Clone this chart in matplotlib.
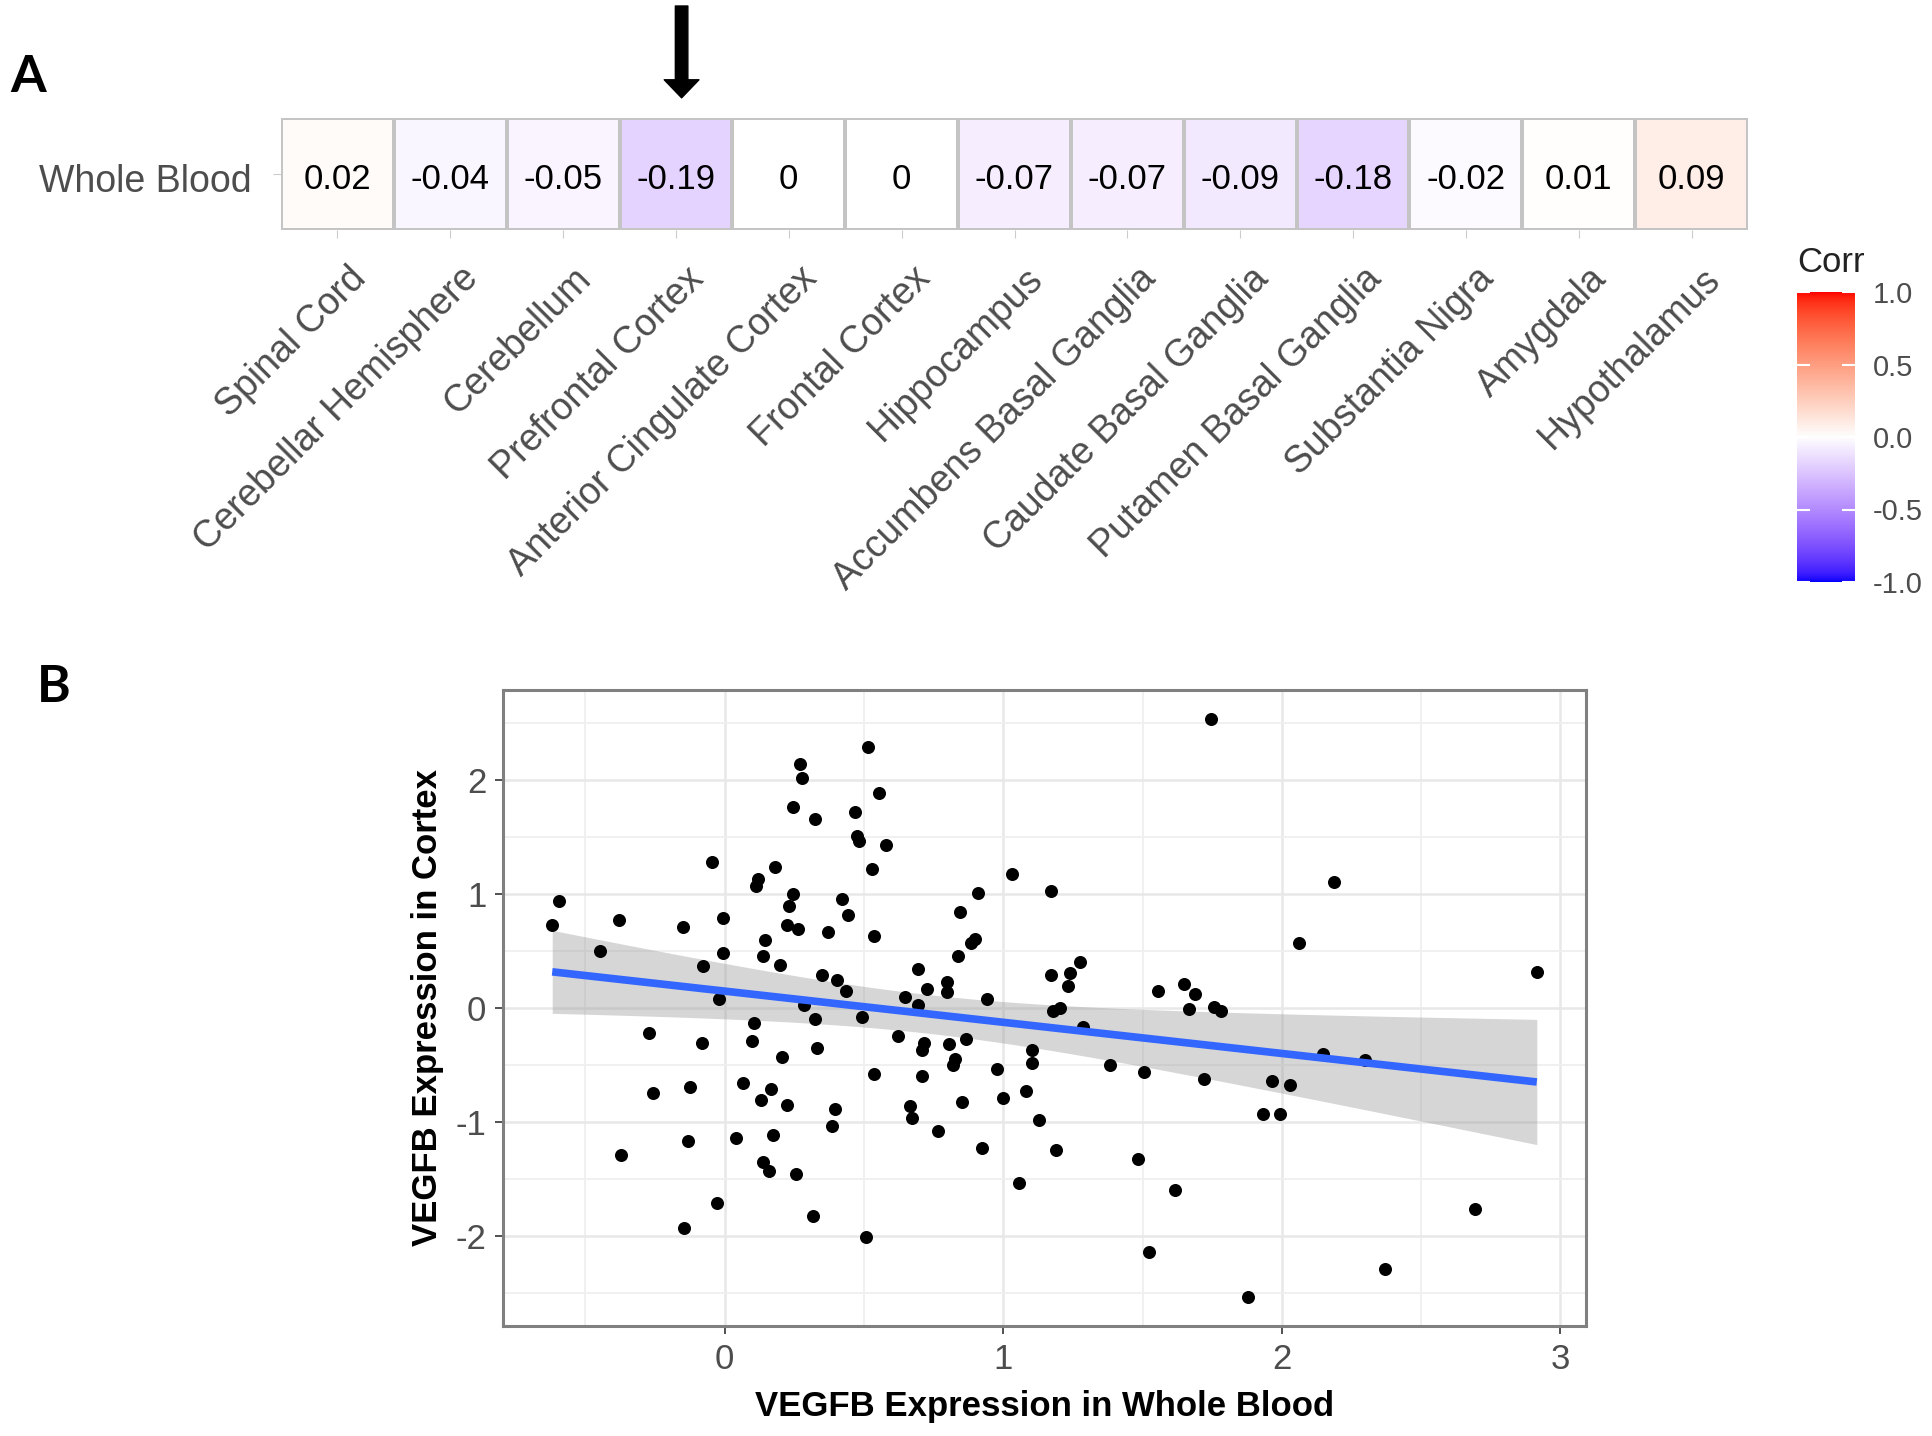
import numpy as np
import matplotlib
matplotlib.use("Agg")
import matplotlib.pyplot as plt
from matplotlib.colors import ListedColormap
from matplotlib.transforms import ScaledTranslation

plt.rcParams['font.family'] = ['Liberation Sans', 'DejaVu Sans']
plt.rcParams['axes.unicode_minus'] = False

# ---------------- data ----------------
tissues = ["Spinal Cord", "Cerebellar Hemisphere", "Cerebellum", "Prefrontal Cortex",
           "Anterior Cingulate Cortex", "Frontal Cortex", "Hippocampus",
           "Accumbens Basal Ganglia", "Caudate Basal Ganglia", "Putamen Basal Ganglia",
           "Substantia Nigra", "Amygdala", "Hypothalamus"]
row_label = "Whole Blood"
corr_values = [0.02, -0.04, -0.05, -0.19, 0, 0, -0.07, -0.07, -0.09, -0.18, -0.02, 0.01, 0.09]
highlight = "Prefrontal Cortex"
cbar_ticks = [1.0, 0.5, 0.0, -0.5, -1.0]
cbar_ticklabels = ["1.0", "0.5", "0.0", "-0.5", "-1.0"]

blood_x = [0.515, 0.27, 0.278, 0.555, 0.246, 0.325, 0.466, 0.474, 0.483, 0.578, 0.529, -0.045,
           0.182, 0.119, 0.112, 1.033, 1.173, 0.247, 0.23, 0.42, 0.443, 0.909, 0.846, -0.594,
           -0.619, -0.381, -0.148, -0.006, 0.223, 0.263, 0.372, 0.537, 0.143, -0.446, -0.006,
           0.136, 0.2, -0.078, 0.898, 0.885, 0.837, 0.695, 0.727, 0.797, 0.797, 0.94, 0.349,
           0.404, 0.435, 0.649, 0.695, 1.17, 1.18, -0.022, 0.286, 0.494, 0.324, 0.105,
           -0.271, -0.083, 0.097, 0.206, 0.331, 0.623, 0.716, 0.71, 0.805, 0.866, 0.828, 0.82,
           1.103, 1.102, 0.978, 0.536, 0.71, -0.257, -0.124, 0.065, 0.168, 0.129, 0.223, 0.395,
           0.387, 0.665, 0.671, 0.851, 1.0, 1.08, 1.127, 0.766, 0.922, 1.19, 1.057, -0.373,
           -0.131, 0.041, 0.175, 0.136, 0.159, 0.255, -0.028, -0.146, 0.317, 0.506,
           1.744, 2.187, 2.062, 2.915, 1.277, 1.238, 1.231, 1.555, 1.649, 1.69, 1.667, 1.758,
           1.782, 1.205,
           1.286, 1.382, 1.506, 1.719, 1.965, 2.03, 2.147, 2.299, 1.933, 1.992, 1.485, 1.618,
           1.523, 1.879, 2.369, 2.694]
cortex_y = [2.29, 2.14, 2.02, 1.89, 1.77, 1.66, 1.72, 1.51, 1.47, 1.43, 1.22, 1.28,
            1.24, 1.13, 1.07, 1.18, 1.03, 1.00, 0.90, 0.96, 0.82, 1.01, 0.84, 0.94,
            0.73, 0.77, 0.71, 0.79, 0.73, 0.69, 0.67, 0.63, 0.60, 0.50, 0.48,
            0.46, 0.38, 0.37, 0.61, 0.57, 0.46, 0.34, 0.17, 0.23, 0.14, 0.08, 0.29,
            0.25, 0.15, 0.10, 0.03, 0.29, -0.03, 0.08, 0.03, -0.08, -0.10, -0.13,
            -0.216, -0.31, -0.29, -0.43, -0.35, -0.25, -0.31, -0.37, -0.32, -0.27, -0.45, -0.50,
            -0.37, -0.48, -0.54, -0.58, -0.60, -0.75, -0.69, -0.66, -0.71, -0.81, -0.85, -0.89,
            -1.04, -0.86, -0.965, -0.83, -0.79, -0.73, -0.985, -1.08, -1.23, -1.25, -1.54, -1.29,
            -1.17, -1.14, -1.12, -1.35, -1.43, -1.46, -1.71, -1.93, -1.83, -2.01,
            2.54, 1.11, 0.57, 0.32, 0.40, 0.31, 0.19, 0.15, 0.21, 0.12, -0.01, 0.01,
            -0.03, 0.0,
            -0.17, -0.50, -0.56, -0.62, -0.64, -0.68, -0.40, -0.455, -0.93, -0.93, -1.33, -1.60,
            -2.14, -2.54, -2.29, -1.77]
x_ticks = [0, 1, 2, 3]
y_ticks = [-2, -1, 0, 1, 2]


# ---------------- colour map (ggplot gradient2 in Lab space) ----------------
_M = np.array([[0.4124, 0.3576, 0.1805], [0.2126, 0.7152, 0.0722], [0.0193, 0.1192, 0.9505]])
_WP = np.array([0.95047, 1.0, 1.08883])


def srgb_to_lab(rgb):
    rgb = np.asarray(rgb, float)
    c = np.where(rgb <= 0.04045, rgb / 12.92, ((rgb + 0.055) / 1.055) ** 2.4)
    xyz = _M @ c / _WP
    f = np.where(xyz > 0.008856, np.cbrt(xyz), 7.787 * xyz + 16 / 116)
    return np.array([116 * f[1] - 16, 500 * (f[0] - f[1]), 200 * (f[1] - f[2])])


def lab_to_srgb(lab):
    L, a, b = lab
    fy = (L + 16) / 116
    f = np.array([fy + a / 500, fy, fy - b / 200])
    xyz = np.where(f ** 3 > 0.008856, f ** 3, (f - 16 / 116) / 7.787) * _WP
    c = np.clip(np.linalg.inv(_M) @ xyz, 0, 1)
    rgb = np.where(c <= 0.0031308, 12.92 * c, 1.055 * c ** (1 / 2.4) - 0.055)
    return np.clip(rgb, 0, 1)


lab_blue = srgb_to_lab([0, 0, 1])
lab_white = srgb_to_lab([1, 1, 1])
lab_red = srgb_to_lab([1, 0, 0])
cols = []
for v in np.linspace(-1, 1, 257):
    if v < 0:
        lab = lab_white + (lab_blue - lab_white) * (-v)
    else:
        lab = lab_white + (lab_red - lab_white) * v
    cols.append(lab_to_srgb(lab))
cmap = ListedColormap(cols)

# ---------------- figure ----------------
W, H = 1932, 1436
fig = plt.figure(figsize=(W / 100, H / 100), dpi=100)

grey_txt = "#4D4D4D"

# ----- Panel A heatmap -----
axA = fig.add_axes([281 / W, 1 - 230 / H, 1467 / W, 112 / H])
n = len(tissues)
vals = np.array(corr_values, float).reshape(1, n)
axA.pcolormesh(np.arange(n + 1), [0, 1], vals, cmap=cmap, vmin=-1, vmax=1,
               edgecolors="#C4C4C4", linewidth=1.6)
for i, v in enumerate(corr_values):
    axA.text(i + 0.5, 0.45, f"{v:g}", ha="center", va="center", fontsize=25, color="black")
axA.set_xlim(0, n)
axA.set_ylim(0, 1)
axA.set_xticks(np.arange(n) + 0.5)
axA.set_xticklabels(tissues, rotation=45, ha="right", va="top", rotation_mode="anchor",
                    fontsize=27, color=grey_txt)
axA.set_yticks([0.5])
axA.set_yticklabels([row_label], fontsize=27, color=grey_txt)
axA.tick_params(axis="x", length=6, color="#CCCCCC", pad=16)
axA.tick_params(axis="y", length=6, color="#CCCCCC", pad=15)
for lab in axA.get_xticklabels():
    lab.set_transform(lab.get_transform() + ScaledTranslation(0.1, 0, fig.dpi_scale_trans))
for lab in axA.get_yticklabels():
    lab.set_transform(lab.get_transform() + ScaledTranslation(0, -0.04, fig.dpi_scale_trans))
for s in axA.spines.values():
    s.set_visible(False)

# arrow pointing at highlighted cell
hi = tissues.index(highlight)
axA.annotate("", xy=(hi + 0.55, 1.18), xycoords="data",
             xytext=(hi + 0.55, 2.0), textcoords="data",
             arrowprops=dict(facecolor="black", edgecolor="black", width=9,
                             headwidth=25, headlength=13, shrink=0),
             annotation_clip=False)

# colour bar
axC = fig.add_axes([1797 / W, 1 - 582 / H, 58 / W, 290 / H])
grad = np.linspace(-1, 1, 256).reshape(-1, 1)
axC.imshow(grad, cmap=cmap, vmin=-1, vmax=1, aspect="auto", origin="lower",
           extent=[0, 1, -1, 1])
axC.set_xlim(0, 1)
axC.set_ylim(-1, 1)
axC.set_xticks([])
axC.yaxis.tick_right()
axC.set_yticks(cbar_ticks)
axC.set_yticklabels(cbar_ticklabels, fontsize=21, color=grey_txt)
axC.tick_params(axis="y", length=0, pad=13)
for t in cbar_ticks:
    axC.plot([0, 0.2], [t, t], color="white", lw=1.5)
    axC.plot([0.8, 1.0], [t, t], color="white", lw=1.5)
for s in axC.spines.values():
    s.set_visible(False)
fig.text(1797 / W, 1 - 262 / H, "Corr", ha="left", va="center", fontsize=25, color="#222222")

# ----- Panel B scatter -----
axB = fig.add_axes([503 / W, 1 - 1326 / H, 1083 / W, 636 / H])
x = np.array(blood_x)
y = np.array(cortex_y)
axB.scatter(x, y, s=88, color="black", zorder=3, linewidths=0)

slope, intercept = np.polyfit(x, y, 1)
xs = np.linspace(x.min(), x.max(), 80)
ys = intercept + slope * xs
resid = y - (intercept + slope * x)
nn = len(x)
s_err = np.sqrt(np.sum(resid ** 2) / (nn - 2))
sxx = np.sum((x - x.mean()) ** 2)
se = s_err * np.sqrt(1 / nn + (xs - x.mean()) ** 2 / sxx)
tval = 1.978
axB.fill_between(xs, ys - tval * se, ys + tval * se, color="#999999", alpha=0.4,
                 linewidth=0, zorder=2)
axB.plot(xs, ys, color="#3366FF", lw=5.5, zorder=4, solid_capstyle="butt")

xr = x.max() - x.min()
yr = y.max() - y.min()
axB.set_xlim(x.min() - 0.05 * xr, x.max() + 0.05 * xr)
axB.set_ylim(y.min() - 0.05 * yr, y.max() + 0.05 * yr)
axB.set_xticks(x_ticks)
axB.set_yticks(y_ticks)
axB.set_xticks([-0.5, 0.5, 1.5, 2.5], minor=True)
axB.set_yticks([-2.5, -1.5, -0.5, 0.5, 1.5, 2.5], minor=True)
axB.grid(True, which="major", color="#E8E8E8", lw=1.8, zorder=0)
axB.grid(True, which="minor", color="#F0F0F0", lw=1.4, zorder=0)
axB.set_axisbelow(True)
axB.tick_params(axis="both", which="major", labelsize=25, labelcolor=grey_txt,
                color="#333333", length=6, width=1.2)
axB.tick_params(axis="both", which="minor", length=0)
axB.tick_params(axis="x", pad=6)
axB.tick_params(axis="y", pad=6)
for s in axB.spines.values():
    s.set_color("#808080")
    s.set_linewidth(2.2)
axB.set_xlabel("VEGFB Expression in Whole Blood", fontsize=25, fontweight="bold",
               color="black", labelpad=10)
axB.set_ylabel("VEGFB Expression in Cortex", fontsize=25, fontweight="bold",
               color="black", labelpad=8)

# panel labels
fig.text(10 / W, 1 - 92 / H, "A", fontsize=37, fontweight="bold", family=["Lato", "DejaVu Sans"],
         ha="left", va="baseline")
fig.text(37 / W, 1 - 702 / H, "B", fontsize=37, fontweight="bold", family=["Lato", "DejaVu Sans"],
         ha="left", va="baseline")

fig.savefig("out.png", dpi=100, facecolor="white")
